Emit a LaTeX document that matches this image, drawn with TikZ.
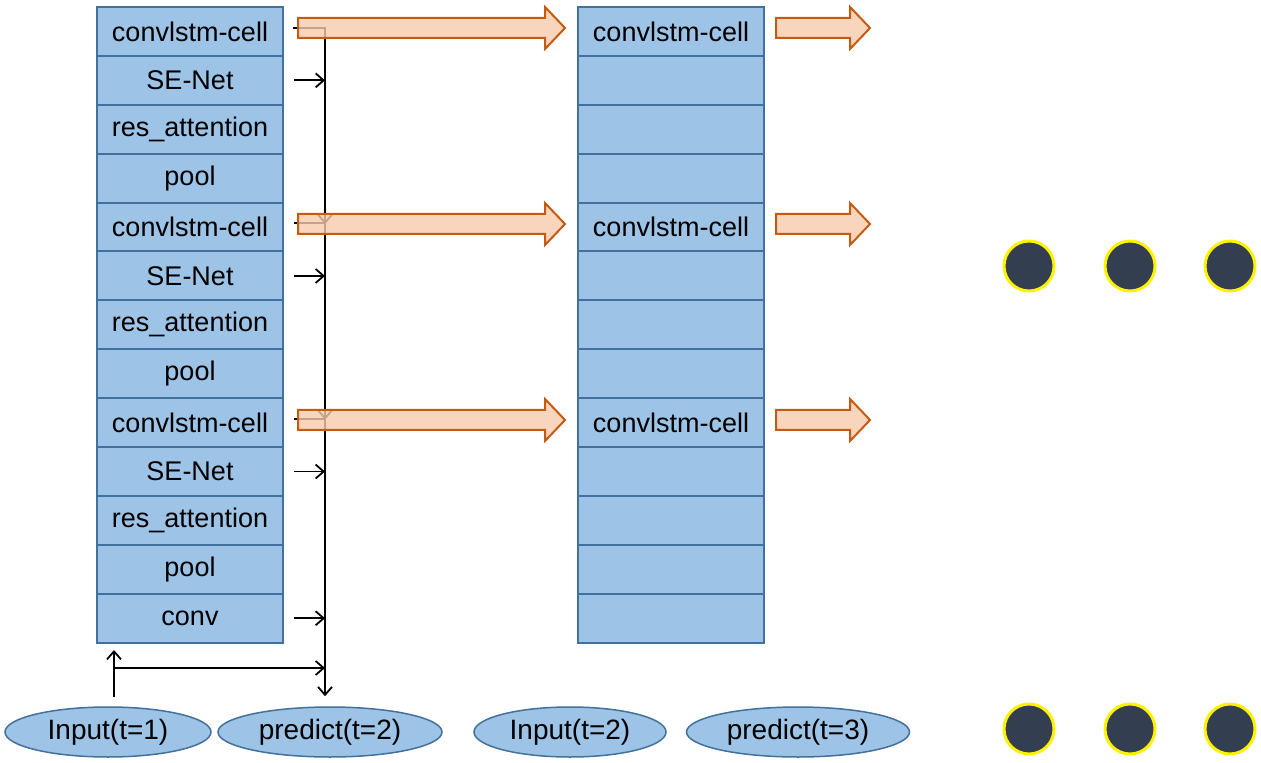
\documentclass[tikz,border=0pt]{standalone}
\usepackage{fontspec}
\setmainfont{Liberation Sans}
\usetikzlibrary{shapes.geometric, arrows.meta}

\definecolor{cellblue}{HTML}{9DC3E6}
\definecolor{cellline}{HTML}{41719C}
\definecolor{fatfill}{HTML}{F8CBAD}
\definecolor{fatline}{HTML}{C55A11}
\definecolor{dotfill}{HTML}{333F50}

\tikzset{
	cell/.style={draw=cellline, fill=cellblue, line width=1pt, minimum width=93pt, minimum height=24.45pt, inner sep=0pt, font=\fontsize{13.5}{16}\selectfont},
	io/.style={ellipse, draw=cellline, fill=cellblue, line width=0.75pt, minimum height=25pt, inner sep=0pt, font=\fontsize{14}{16}\selectfont},
	dot/.style={circle, draw=yellow, fill=dotfill, line width=1.5pt, minimum size=25pt, inner sep=0pt},
	link/.style={line width=0.9pt, >={Straight Barb[length=4pt, width=7pt]}},
}

% fat arrow: from x #1 to x #2 at height #3 (pixel units)
\newcommand{\fatarrow}[3]{%
	\draw[draw=fatline, fill=fatfill, fill opacity=0.8, line width=1pt] (#1,#3-10) -- (#2-20,#3-10) -- (#2-20,#3-21) -- (#2,#3) -- (#2-20,#3+21) -- (#2-20,#3+10) -- (#1,#3+10) -- cycle;}

\begin{document}
\begin{tikzpicture}[x=0.5pt, y=-0.5pt]
	\useasboundingbox (0,0) rectangle (1261,763);

	% encoder column
	\foreach \lab [count=\i] in {convlstm-cell,SE-Net,res\_attention,pool,convlstm-cell,SE-Net,res\_attention,pool,convlstm-cell,SE-Net,res\_attention,pool,conv}
		\node[cell] (l\i) at (190, 48.9*\i-17.45) {\lab};

	% second column
	\foreach \i in {1,...,13}
		\node[cell] (r\i) at (671, 48.9*\i-17.45) {};
	\foreach \i in {1,5,9}
		\node[font=\fontsize{13.5}{16}\selectfont] at (r\i) {convlstm-cell};

	% inputs and predictions
	\node[io, minimum width=103pt] (in1) at (108,732) {Input(t=1)};
	\node[io, minimum width=112pt] (pr2) at (330,732) {predict(t=2)};
	\node[io, minimum width=96pt] (in2) at (570,732) {Input(t=2)};
	\node[io, minimum width=111.5pt] (pr3) at (798,732) {predict(t=3)};

	% skip connections
	\coordinate (bus) at (325,28);
	\draw[link,->] (293,28) -- (bus) -- ([yshift=5pt]bus |- pr2.north);
	\foreach \i in {2,6,10,13}
		\draw[link,->] ([xshift=5pt]l\i.east) -- (l\i.east -| bus);
	\foreach \i in {5,9} {
		\draw[link] ([xshift=5pt,yshift=2pt]l\i.east) -- ([yshift=2pt]l\i.east -| bus);
		\draw[link,->] ([yshift=14pt]l\i.east -| bus) -- ([yshift=1.5pt]l\i.east -| bus);
	}
	\draw[link,->] (114,697) -- (114,650);
	\draw[link,->] (114,668) -- (bus |- 0,668);

	% state passing
	\foreach \y in {28,224,420} {
		\fatarrow{298}{565}{\y}
		\fatarrow{776}{870}{\y}
	}

	% ellipsis dots
	\foreach \x [count=\k] in {1029,1130,1230} {
		\node[dot] (d\k) at (\x,266) {};
		\node[dot] (e\k) at (\x,729) {};
	}
\end{tikzpicture}
\end{document}
